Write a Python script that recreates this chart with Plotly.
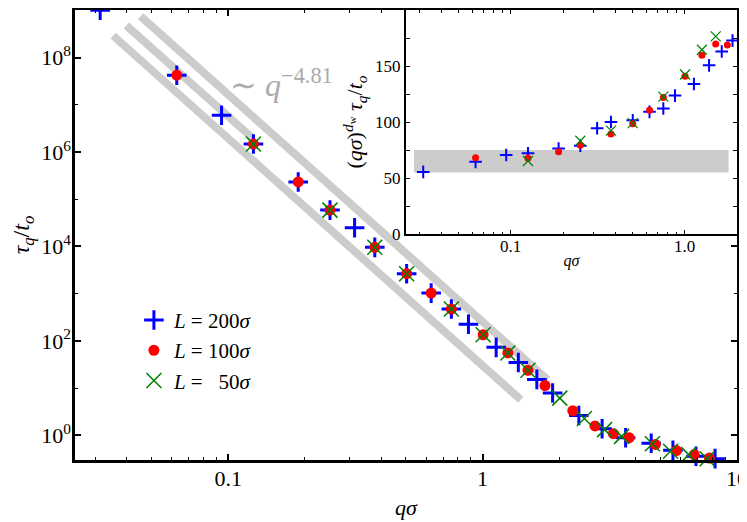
import plotly.graph_objects as go

# main panel: relaxation time tau_q/t_o against q*sigma, one list per system size
q_200 = [0.0314, 0.0628, 0.0942, 0.1257, 0.1885, 0.2513, 0.314, 0.377, 0.503, 0.628,
         0.754, 0.880, 1.131, 1.382, 1.634, 1.885, 2.39, 2.95, 3.65, 4.6, 5.6, 6.9, 8.2]
tau_200 = [1.01e9, 4.25e7, 6.04e6, 1.48e6, 2.33e5, 5.9e4, 2.5e4, 9.6e3, 2.65e3, 1.03e3,
           474, 225, 73.1, 34.8, 15.3, 7.87, 2.63, 1.38, 0.89, 0.68, 0.48, 0.36, 0.32]

q_100 = [0.0628, 0.1257, 0.1885, 0.2513, 0.377, 0.503, 0.628, 0.754, 1.005, 1.257,
         1.508, 1.759, 2.262, 2.765, 3.267, 3.77, 4.775, 5.78, 6.79, 7.79]
tau_100 = [4.25e7, 1.48e6, 2.33e5, 5.9e4, 9.6e3, 2.65e3, 1.03e3, 474, 135, 55.5,
           23.9, 11.35, 3.33, 1.58, 1.08, 0.89, 0.64, 0.475, 0.39, 0.33]

q_50 = [0.1257, 0.2513, 0.377, 0.503, 0.754, 1.005, 1.257, 1.508, 2.011, 2.513,
        3.016, 3.52, 4.65, 5.48, 6.46, 7.63]
tau_50 = [1.48e6, 5.9e4, 9.6e3, 2.65e3, 474, 135, 55.5, 23.9, 6.14, 2.28,
          1.32, 0.95, 0.66, 0.46, 0.39, 0.32]

# gray guide stripes ~ q^-4.81 (start / end points)
guide_low_q = [0.0353, 1.413]
guide_low_tau = [2.93e8, 5.67]
guide_mid_q = [0.0398, 0.125]
guide_mid_tau = [4.81e8, 1.95e6]
guide_high_q = [0.0453, 1.798]
guide_high_tau = [7.52e8, 15.1]

# inset: (q sigma)^d_w tau_q / t_o
in_q_200 = [0.0314, 0.0628, 0.0942, 0.1257, 0.1885, 0.2513, 0.314, 0.377, 0.503, 0.628,
            0.754, 0.880, 1.131, 1.382, 1.634, 1.885]
in_y_200 = [55.5, 64.5, 70.6, 72.1, 76.4, 78.8, 94.5, 100, 101.5, 109.1,
            112.1, 123.6, 133.9, 150.6, 163, 172.7]
in_q_100 = [0.0628, 0.1257, 0.1885, 0.2513, 0.377, 0.503, 0.628, 0.754, 1.005, 1.257,
            1.508, 1.759]
in_y_100 = [68.2, 67.6, 73.6, 79.4, 89.4, 98.5, 110.6, 121.8, 140.9, 159.7, 169.7, 168.8]
in_q_50 = [0.1257, 0.2513, 0.377, 0.503, 0.754, 1.005, 1.257, 1.508]
in_y_50 = [65.2, 83.3, 92.4, 99, 122.7, 142.4, 164.5, 176.4]

band_q = [0.0278, 1.79]
band_y = [55, 75]

# ticks
main_xtick_vals = [0.1, 1, 10]
main_xtick_text = ["0.1", "1", "10"]
main_ytick_vals = [1, 1e2, 1e4, 1e6, 1e8]
main_ytick_text = ["10<sup>0</sup>", "10<sup>2</sup>", "10<sup>4</sup>", "10<sup>6</sup>", "10<sup>8</sup>"]
in_xtick_vals = [0.1, 1]
in_xtick_text = ["0.1", "1.0"]
in_ytick_vals = [0, 50, 100, 150]

labels = ["<i>L</i> = 200<i>σ</i>", "<i>L</i> = 100<i>σ</i>", "<i>L</i> =   50<i>σ</i>"]

FONT = "Liberation Serif"
GRAY = "#cccccc"

minor_x = [m * 10 ** e for e in (-2, -1, 0) for m in range(2, 10)]

fig = go.Figure()

# guide stripes
for gq, gt in [(guide_low_q, guide_low_tau), (guide_mid_q, guide_mid_tau), (guide_high_q, guide_high_tau)]:
    fig.add_trace(go.Scatter(x=gq, y=gt, mode="lines", line=dict(color=GRAY, width=8),
                             showlegend=False, hoverinfo="skip"))

fig.add_trace(go.Scatter(x=q_200, y=tau_200, mode="markers", name=labels[0], cliponaxis=False,
                         marker=dict(symbol="cross-thin", size=14, line=dict(color="#0000ff", width=3))))
fig.add_trace(go.Scatter(x=q_100, y=tau_100, mode="markers", name=labels[1], cliponaxis=False,
                         marker=dict(symbol="circle", size=11, color="#ff0000")))
fig.add_trace(go.Scatter(x=q_50, y=tau_50, mode="markers", name=labels[2], cliponaxis=False,
                         marker=dict(symbol="x-thin", size=15, line=dict(color="#008000", width=1.5))))

# inset
fig.add_trace(go.Scatter(x=[band_q[0], band_q[1], band_q[1], band_q[0]],
                         y=[band_y[0], band_y[0], band_y[1], band_y[1]],
                         fill="toself", fillcolor=GRAY, mode="none", xaxis="x2", yaxis="y2",
                         showlegend=False, hoverinfo="skip"))
fig.add_trace(go.Scatter(x=in_q_200, y=in_y_200, mode="markers", xaxis="x2", yaxis="y2", showlegend=False,
                         marker=dict(symbol="cross-thin", size=9, line=dict(color="#0000ff", width=2))))
fig.add_trace(go.Scatter(x=in_q_100, y=in_y_100, mode="markers", xaxis="x2", yaxis="y2", showlegend=False,
                         marker=dict(symbol="circle", size=7, color="#ff0000")))
fig.add_trace(go.Scatter(x=in_q_50, y=in_y_50, mode="markers", xaxis="x2", yaxis="y2", showlegend=False,
                         marker=dict(symbol="x-thin", size=10, line=dict(color="#008000", width=1.2))))

axis_common = dict(showline=True, linecolor="black", mirror="allticks", ticks="inside",
                   tickcolor="black", showgrid=False, zeroline=False, automargin=False)

# the page body adds an 8px offset, so the figure is a bit smaller than the window
fig.update_layout(
    width=739, height=514,
    margin=dict(l=67, r=10, t=2, b=62),
    paper_bgcolor="white", plot_bgcolor="white",
    font=dict(family=FONT, color="black"),
    xaxis=dict(type="log", range=[-1.602, 1], domain=[0, 1], anchor="y",
               tickvals=main_xtick_vals, ticktext=main_xtick_text, tickfont=dict(size=22),
               ticklabeloverflow="allow", ticklabelstandoff=-3,
               linewidth=2.5, ticklen=6, tickwidth=1.5,
               minor=dict(tickvals=minor_x, ticks="inside", ticklen=3.5, tickwidth=1.2, tickcolor="black"),
               title=dict(text="<i>qσ</i>", font=dict(size=22), standoff=10),
               **axis_common),
    yaxis=dict(type="log", range=[-0.523, 9.01], domain=[0, 1], anchor="x",
               tickvals=main_ytick_vals, ticktext=main_ytick_text, tickfont=dict(size=22),
               ticklabelstandoff=-3,
               linewidth=2.5, ticklen=6, tickwidth=1.5,
               minor=dict(tickvals=[10, 1e3, 1e5, 1e7], ticks="inside", ticklen=3.5, tickwidth=1.2,
                          tickcolor="black"),
               title=dict(text="<i>τ<sub>q</sub></i>/<i>t<sub>o</sub></i>", font=dict(size=24), standoff=10),
               **axis_common),
    xaxis2=dict(type="log", range=[-1.602, 0.301], domain=[0.5, 1], anchor="y2",
                tickvals=in_xtick_vals, ticktext=in_xtick_text, tickfont=dict(size=17),
                ticklabelstandoff=-5,
                linewidth=2, ticklen=4, tickwidth=1,
                minor=dict(tickvals=minor_x, ticks="inside", ticklen=2.5, tickwidth=1, tickcolor="black"),
                title=dict(text="<i>qσ</i>", font=dict(size=16), standoff=0),
                **axis_common),
    yaxis2=dict(range=[0, 200], domain=[0.502, 1], anchor="x2",
                tickvals=in_ytick_vals, tickfont=dict(size=17),
                linewidth=2, ticklen=4, tickwidth=1,
                minor=dict(dtick=25, ticks="inside", ticklen=4, tickwidth=1, tickcolor="black"),
                title=dict(text="(<i>qσ</i>)<sup><i>d</i><sub>w</sub></sup> <i>τ<sub>q</sub></i>/<i>t<sub>o</sub></i>",
                           font=dict(size=22), standoff=6),
                **axis_common),
    legend=dict(x=0.089, y=0.356, xanchor="left", yanchor="top", bgcolor="rgba(0,0,0,0)",
                font=dict(size=21)),
    annotations=[dict(text="∼ <i>q</i><sup>−4.81</sup>", x=0.231, y=0.837, xref="paper", yref="paper",
                      xanchor="left", yanchor="middle", showarrow=False,
                      font=dict(size=32, color="#aaaaaa"))],
)

fig.write_html("out.html")
